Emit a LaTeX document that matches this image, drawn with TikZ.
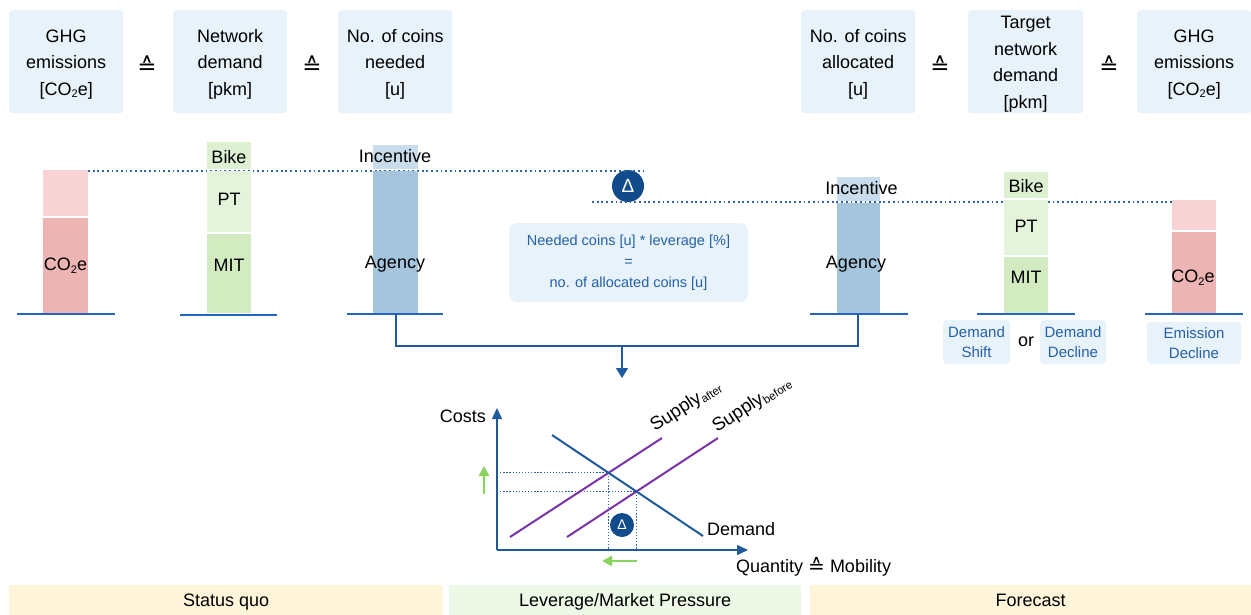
\documentclass[tikz,border=0pt]{standalone}
\usepackage{fontspec}
\setmainfont{Liberation Sans}
\newfontfamily\symfont{DejaVu Sans}
\usetikzlibrary{arrows.meta,intersections,calc}

\definecolor{boxblue}{HTML}{E8F2FA}
\definecolor{txtblue}{HTML}{2461A8}
\definecolor{lineblue}{HTML}{2364BE}
\definecolor{connblue}{HTML}{1F5AA0}
\definecolor{dotblue}{HTML}{2E64AE}
\definecolor{redL}{HTML}{F7D3D4}
\definecolor{redD}{HTML}{EDB4B4}
\definecolor{bikeG}{HTML}{DDF1D2}
\definecolor{ptG}{HTML}{E3F4DA}
\definecolor{mitG}{HTML}{D2EBC0}
\definecolor{agB}{HTML}{A5C5DD}
\definecolor{incB}{HTML}{C8DCEB}
\definecolor{deltaB}{HTML}{124B8C}
\definecolor{supplyP}{HTML}{7A32A8}
\definecolor{demandB}{HTML}{1F5A9A}
\definecolor{arrowG}{HTML}{86D45C}
\definecolor{phaseY}{HTML}{FEF4DA}
\definecolor{phaseG}{HTML}{EEF8E7}

\newcommand\lowtwo{\raisebox{-0.28ex}{\fontsize{11}{11}\selectfont 2}}

\begin{document}
\begin{tikzpicture}[x=1pt,y=-1pt,
  hdr/.style={fill=boxblue, rounded corners=3pt, minimum width=114pt, minimum height=103pt,
    inner sep=0pt, anchor=north west},
  hdrtxt/.style={align=center, inner sep=0pt, yshift=-2.5pt, font=\fontsize{18}{26.5}\selectfont},
  eqsym/.style={inner sep=0pt, font=\symfont\fontsize{23}{24}\selectfont},
  seg/.style={inner sep=0pt, outer sep=0pt, anchor=north west, draw=none},
  lbl/.style={inner sep=0pt, text height=12.9pt, text depth=0pt, font=\fontsize{18}{22}\selectfont},
  baseln/.style={draw=lineblue, line width=2.5pt},
  dots/.style={draw=dotblue, line width=1.8pt, dash pattern=on 1.8pt off 2.9pt},
  cdots/.style={draw=dotblue, line width=1.3pt, dash pattern=on 1.3pt off 1.8pt},
  conn/.style={draw=connblue, line width=1.5pt},
  smallbox/.style={fill=boxblue, rounded corners=4pt, align=center, inner sep=0pt,
    text=txtblue, font=\fontsize{15}{20}\selectfont},
  deltanode/.style={circle, fill=deltaB, inner sep=0pt, text=white},
  axis/.style={draw=demandB, line width=1.6pt, -{Triangle[length=11pt,width=10pt]}},
  supply/.style={draw=supplyP, line width=2pt},
  demand/.style={draw=demandB, line width=2pt},
  garrow/.style={draw=arrowG, line width=2.8pt, -{Triangle[length=10pt,width=10pt]}},
  phase/.style={inner sep=0pt, anchor=north west, minimum height=30pt},
  phasetxt/.style={inner sep=0pt, text height=12.9pt, text depth=0pt, font=\fontsize{18}{22}\selectfont}
]
\useasboundingbox (0,0) rectangle (1251,614);

% ---------- unit headers ----------
\node[hdr] (h1) at (9,10)   {};
\node[hdr] (h2) at (173,10) {};
\node[hdr] (h3) at (338,10) {};
\node[hdr] (h4) at (801,10) {};
\node[hdr, minimum width=115pt] (h5) at (968,10) {};
\node[hdr] (h6) at (1137,10) {};
\node[hdrtxt] (h1t) at (h1.center) {GHG\\emissions\\{[CO\lowtwo e]}};
\node[hdrtxt] (h2t) at (h2.center) {Network\\demand\\{[pkm]}};
\node[hdrtxt] (h3t) at (h3.center) {No. of coins\\needed\\{[u]}};
\node[hdrtxt] (h4t) at (h4.center) {No. of coins\\allocated\\{[u]}};
\node[hdrtxt] (h5t) at (h5.center) {Target\\network\\demand\\{[pkm]}};
\node[hdrtxt] (h6t) at (h6.center) {GHG\\emissions\\{[CO\lowtwo e]}};
\node[eqsym] (e1) at (147,65)  {≙};
\node[eqsym] (e2) at (312,65)  {≙};
\node[eqsym] (e3) at (940,65)  {≙};
\node[eqsym] (e4) at (1109,65) {≙};

% ---------- reference levels ----------
\coordinate (lvA) at (645,171);
\coordinate (lvB0) at (592,202);
\node[deltanode, minimum size=32pt, font=\fontsize{19}{19}\selectfont] (dtop) at (628,186) {Δ};

% ---------- status quo bars ----------
\node[seg, fill=redL, minimum width=45pt, minimum height=46pt] (co2Lt) at (43,170) {};
\draw[dots] (co2Lt.north east) ++(0,1) -- (lvA);
\node[seg, fill=redD, minimum width=45pt, minimum height=95pt] (co2Lb) at (43,218) {};
\node[seg, fill=bikeG, minimum width=44pt, minimum height=27pt] (bikeL) at (207,142) {};
\node[seg, fill=ptG, minimum width=44pt, minimum height=61pt] (ptL) at (207,171) {};
\node[seg, fill=mitG, minimum width=44pt, minimum height=79pt] (mitL) at (207,234) {};
\node[seg, fill=incB, minimum width=45pt, minimum height=24pt] (incL) at (373,145) {};
\node[seg, fill=agB, minimum width=45pt, minimum height=142pt] (agL) at (373,171) {};

\node[lbl] (tco2L) at (65.5,264.5) {CO\lowtwo e};
\node[lbl] (tbikeL) at (229,157) {Bike};
\node[lbl] (tptL) at (229,199.5) {PT};
\node[lbl] (tmitL) at (229,265) {MIT};
\node[lbl] (tincL) at (395,156) {Incentive};
\node[lbl] (tagL) at (395,262) {Agency};

\coordinate (bl1a) at (17,314);  \coordinate (bl1b) at (115,314);
\coordinate (bl2a) at (180,315); \coordinate (bl2b) at (277,315);
\coordinate (bl3a) at (347,314); \coordinate (bl3b) at (443,314);
\draw[baseln] (bl1a) -- (bl1b);
\draw[baseln] (bl2a) -- (bl2b);
\draw[baseln] (bl3a) -- (bl3b);

% ---------- forecast bars ----------
\node[seg, fill=redL, minimum width=44pt, minimum height=30pt] (co2Rt) at (1172,200) {};
\draw[dots] (lvB0) -- (co2Rt.north west |- lvB0);
\node[seg, fill=incB, minimum width=43pt, minimum height=24pt] (incR) at (837,177) {};
\node[seg, fill=agB, minimum width=43pt, minimum height=110pt] (agR) at (837,203) {};
\node[seg, fill=bikeG, minimum width=44pt, minimum height=26pt] (bikeR) at (1004,172) {};
\node[seg, fill=ptG, minimum width=44pt, minimum height=55pt] (ptR) at (1004,200) {};
\node[seg, fill=mitG, minimum width=44pt, minimum height=56pt] (mitR) at (1004,257) {};
\node[seg, fill=redD, minimum width=44pt, minimum height=81pt] (co2Rb) at (1172,232) {};

\node[lbl] (tincR) at (861.5,188) {Incentive};
\node[lbl] (tagR) at (856,262) {Agency};
\node[lbl] (tbikeR) at (1026,186.5) {Bike};
\node[lbl] (tptR) at (1026,226.5) {PT};
\node[lbl] (tmitR) at (1026,277.5) {MIT};
\node[lbl] (tco2R) at (1193,276.5) {CO\lowtwo e};

\coordinate (br1a) at (810,314);  \coordinate (br1b) at (908,314);
\coordinate (br2a) at (977,314);  \coordinate (br2b) at (1075,314);
\coordinate (br3a) at (1145,314); \coordinate (br3b) at (1243,314);
\draw[baseln] (br1a) -- (br1b);
\draw[baseln] (br2a) -- (br2b);
\draw[baseln] (br3a) -- (br3b);

% ---------- leverage formula ----------
\node[smallbox, rounded corners=8pt, minimum width=239pt, minimum height=79pt,
      font=\fontsize{14.5}{21}\selectfont] (formula) at (628.5,262.5)
  {Needed coins [u] * leverage [\%]\\=\\no. of allocated coins [u]};

% ---------- effect boxes ----------
\node[smallbox, minimum width=67pt, minimum height=44pt] (dshift) at (976.5,342) {Demand\\Shift};
\node[lbl] (orword) at (1026,340) {or};
\node[smallbox, minimum width=66pt, minimum height=44pt] (ddecl) at (1073,342) {Demand\\Decline};
\node[smallbox, minimum width=94pt, minimum height=42pt] (edecl) at (1194,343) {Emission\\Decline};

% ---------- connector into the market chart ----------
\coordinate (cL) at (396,314);
\coordinate (cR) at (858,314);
\coordinate (cy) at (0,346);
\coordinate (cj) at (622,346);
\coordinate (cin) at (622,378);
\draw[conn] (cL) -- (cL |- cy) -- (cR |- cy) -- (cR);
\draw[conn, -{Triangle[length=10pt,width=12pt]}] (cj) -- (cin);

% ---------- supply / demand chart ----------
\coordinate (O) at (497,550);
\coordinate (ytip) at (497,408);
\coordinate (xtip) at (748,550);
\coordinate (d1) at (552,435);  \coordinate (d2) at (703,536);
\coordinate (sa1) at (510,537); \coordinate (sa2) at (662,438);
\coordinate (sb1) at (567,537); \coordinate (sb2) at (718,438);

\path[name path=dem] (d1) -- (d2);
\path[name path=sa] (sa1) -- (sa2);
\path[name path=sb] (sb1) -- (sb2);
\path[name intersections={of=dem and sa, by=ia}];
\path[name intersections={of=dem and sb, by=ib}];

\draw[cdots] (O |- ia) -- (ia) -- (ia |- O);
\draw[cdots] (O |- ib) -- (ib) -- (ib |- O);

\draw[axis] (O) -- (ytip);
\draw[axis] (O) -- (xtip);
\draw[supply] (sa1) -- (sa2);
\draw[supply] (sb1) -- (sb2);
\draw[demand] (d1) -- (d2);

\node[inner sep=0pt, anchor=base west, rotate=33, font=\fontsize{18.5}{22}\selectfont] (lsa) at (655,432)
  {Supply\raisebox{-0.3ex}{\fontsize{11.5}{12}\selectfont after}};
\node[inner sep=0pt, anchor=base west, rotate=33, font=\fontsize{18.5}{22}\selectfont] (lsb) at (717,433)
  {Supply\raisebox{-0.3ex}{\fontsize{11.5}{12}\selectfont before}};
\node[lbl, anchor=west] (ldem) at (707,529) {Demand};
\node[lbl, anchor=east] (lcost) at (486,416) {Costs};
\node[lbl, anchor=west] (lqty) at (736,566)
  {Quantity \raisebox{-1pt}{\symfont\fontsize{20}{20}\selectfont ≙} Mobility};

\node[deltanode, minimum size=24pt, font=\fontsize{14}{14}\selectfont] (dchart) at (622,525) {Δ};

\coordinate (gu1) at (484,494); \coordinate (gu2) at (484,466);
\coordinate (gl1) at (637,561); \coordinate (gl2) at (602,561);
\draw[garrow] (gu1) -- (gu2);
\draw[garrow] (gl1) -- (gl2);

% ---------- phases ----------
\node[phase, fill=phaseY, minimum width=434pt] (ph1) at (9,585) {};
\node[phase, fill=phaseG, minimum width=352pt] (ph2) at (449,585) {};
\node[phase, fill=phaseY, minimum width=441pt] (ph3) at (810,585) {};
\node[phasetxt] (ph1t) at (ph1.center) {Status quo};
\node[phasetxt] (ph2t) at (ph2.center) {Leverage/Market Pressure};
\node[phasetxt] (ph3t) at (ph3.center) {Forecast};
\end{tikzpicture}
\end{document}
